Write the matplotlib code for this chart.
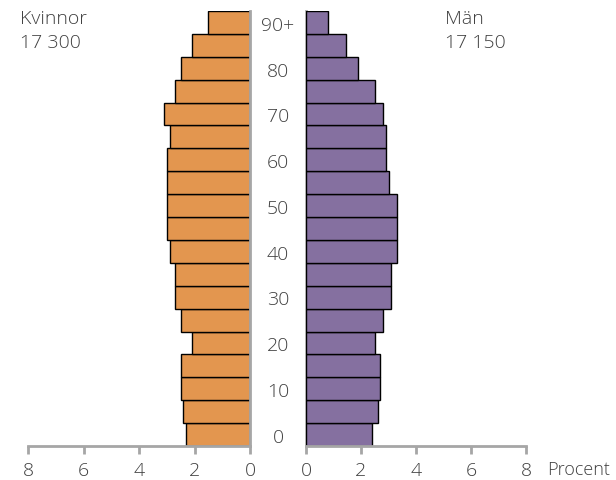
import numpy as np
import matplotlib
matplotlib.use('Agg')
import matplotlib.pyplot as plt
import matplotlib.transforms as mtransforms

plt.rcParams['font.family'] = ['Open Sans', 'DejaVu Sans']
plt.rcParams['font.weight'] = 'light'

# åldersgrupper 0-4 ... 85-89, 90+
ages = ['0', '5', '10', '15', '20', '25', '30', '35', '40', '45',
        '50', '55', '60', '65', '70', '75', '80', '85', '90+']
kvinnor = [2.3, 2.4, 2.5, 2.5, 2.1, 2.5, 2.7, 2.7, 2.9, 3.0,
           3.0, 3.0, 3.0, 2.9, 3.1, 2.7, 2.5, 2.1, 1.5]
man = [2.4, 2.6, 2.7, 2.7, 2.5, 2.8, 3.1, 3.1, 3.3, 3.3,
       3.3, 3.0, 2.9, 2.9, 2.8, 2.5, 1.9, 1.45, 0.8]
age_labels = {0: '0', 2: '10', 4: '20', 6: '30', 8: '40', 10: '50',
              12: '60', 14: '70', 16: '80', 18: '90+'}
xticks = [0, 2, 4, 6, 8]

ORANGE = '#E3964F'
PURPLE = '#8570A0'
GREY = '#A6A6A6'
TXT = '#404040'
FS = 14

W, H = 616, 481
fig = plt.figure(figsize=(W / 100, H / 100), dpi=100)

def px_axes(x0, x1, ytop, ybot):
    return fig.add_axes([x0 / W, (H - ybot) / H, (x1 - x0) / W, (ybot - ytop) / H])

axL = px_axes(28, 250, 12, 447)
axR = px_axes(306, 526, 12, 447)

y = np.arange(len(ages))

axL.barh(y, kvinnor, height=1.0, color=ORANGE, edgecolor='black', linewidth=1)
axR.barh(y, man, height=1.0, color=PURPLE, edgecolor='black', linewidth=1)

for ax in (axL, axR):
    ax.set_ylim(-0.5, len(ages) - 0.5)
    ax.set_yticks([])
    ax.set_xticks(xticks)
    ax.set_xticklabels([str(t) for t in xticks], fontsize=FS, color=TXT)
    ax.spines['top'].set_visible(False)
    ax.spines['bottom'].set_color(GREY)
    ax.spines['bottom'].set_linewidth(2)
    ax.tick_params(axis='x', direction='out', length=6, width=2, color=GREY, pad=5)
    ax.set_facecolor('none')

axL.set_xlim(8, 0)
axL.spines['left'].set_visible(False)
axL.spines['right'].set_color(GREY)
axL.spines['right'].set_linewidth(2)

axR.set_xlim(0, 8)
axR.spines['right'].set_visible(False)
axR.spines['left'].set_color(GREY)
axR.spines['left'].set_linewidth(2)
axR.spines['left'].set_zorder(0)

# åldersetiketter i mitten
trans = mtransforms.blended_transform_factory(fig.transFigure, axL.transData)
for i, lab in age_labels.items():
    fig.text(278 / W, i - 0.1, lab, transform=trans, ha='center', va='center',
             fontsize=FS, color=TXT)

fig.text(20 / W, 1 - 19 / H, 'Kvinnor', ha='left', va='center', fontsize=FS, color=TXT)
fig.text(20 / W, 1 - 43 / H, '17 300', ha='left', va='center', fontsize=FS, color=TXT)
fig.text(445 / W, 1 - 19 / H, 'Män', ha='left', va='center', fontsize=FS, color=TXT)
fig.text(445 / W, 1 - 43 / H, '17 150', ha='left', va='center', fontsize=FS, color=TXT)
fig.text(547 / W, 1 - 470 / H, 'Procent', ha='left', va='center', fontsize=FS - 1, color=TXT)

fig.savefig('out.png', dpi=100)
